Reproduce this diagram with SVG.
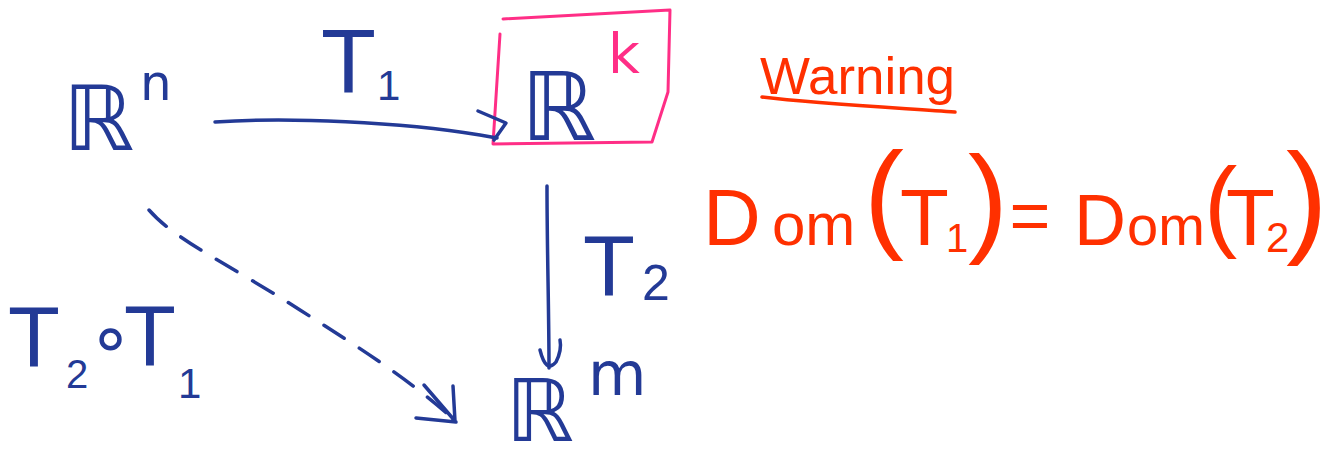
<svg xmlns="http://www.w3.org/2000/svg" width="1325" height="458" viewBox="0 0 1325 458">
<defs>
<style>
.blue{fill:#233a96;font-family:"Liberation Sans",Arial,sans-serif}
.bb{font-family:"DejaVu Sans",sans-serif}
.red{fill:#ff3000;font-family:"Liberation Sans",Arial,sans-serif}
.pink{fill:#ff2e86}
.ln{fill:none;stroke:#233a96;stroke-width:3.5;stroke-linecap:round;stroke-linejoin:round}
.rl{fill:none;stroke:#ff3000;stroke-width:3.5;stroke-linecap:round}
.box{fill:none;stroke:#ff2e86;stroke-width:3;stroke-linejoin:round;stroke-linecap:round}
</style>
</defs>
<rect width="1325" height="458" fill="#ffffff"/>
<g id="node-Rn">
<text class="blue bb" x="63" y="150" font-size="90">ℝ<tspan x="140" y="100" font-size="50">n</tspan></text>
</g>
<g id="node-Rk">
<path class="box" d="M503,19 L670,10 L668,92 L652,142 L493,144 L500,34"/>
<text class="blue bb" x="521" y="140" font-size="95">ℝ</text>
<text class="pink bb" x="608" y="73" font-size="55">k</text>
</g>
<g id="node-Rm">
<text class="blue bb" x="506" y="441" font-size="86">ℝ<tspan x="588" y="395" font-size="60">m</tspan></text>
</g>
<g id="connectors">
<path class="ln" d="M215,122 C290,117 400,122 480,135 L497,138"/>
<path class="ln" d="M478,111 L506,123 L494,140"/>
<path class="ln" d="M547,186 C547,250 549,310 549,368"/>
<path class="ln" d="M540,350 Q546,374 556,362 Q562,350 560,340"/>
<path class="ln" d="M149,210 C175,240 230,265 300,310 C360,348 410,380 452,418" stroke-dasharray="24,18"/>
<path class="ln" d="M424,385 L455,421 L453,386 M416,418 L456,422"/>
</g>
<g id="label-T1">
<text class="blue" x="321" y="93" font-size="90">T<tspan x="377" y="100" font-size="42">1</tspan></text>
</g>
<g id="label-T2">
<text class="blue" x="583" y="295" font-size="85">T<tspan x="642" y="300" font-size="50">2</tspan></text>
</g>
<g id="label-T2oT1">
<text class="blue" x="8" y="366" font-size="85">T<tspan x="66" y="388" font-size="40">2</tspan><tspan class="bb" x="88" y="362" font-size="72">∘</tspan><tspan x="124" y="365">T</tspan><tspan x="178" y="398" font-size="42">1</tspan></text>
</g>
<g id="warning">
<text class="red" x="760" y="94" font-size="52" textLength="195" lengthAdjust="spacingAndGlyphs">Warning</text>
<path class="rl" d="M762,97 C820,104 900,108 955,112"/>
<text class="red" y="245" font-size="80"><tspan x="703">D</tspan><tspan x="772" font-size="60">om</tspan><tspan x="864" y="236" font-size="120">(</tspan><tspan x="900" y="245">T</tspan><tspan x="946" y="252" font-size="40">1</tspan><tspan x="968" y="240" font-size="120">)</tspan><tspan x="990" y="240" font-size="70"> = </tspan><tspan x="1074" y="245" font-size="72">D</tspan><tspan x="1127" font-size="56">om</tspan><tspan x="1204" y="238" font-size="100">(</tspan><tspan x="1226" y="245">T</tspan><tspan x="1266" y="252" font-size="42">2</tspan><tspan x="1286" y="240" font-size="125">)</tspan></text>
</g>
</svg>
